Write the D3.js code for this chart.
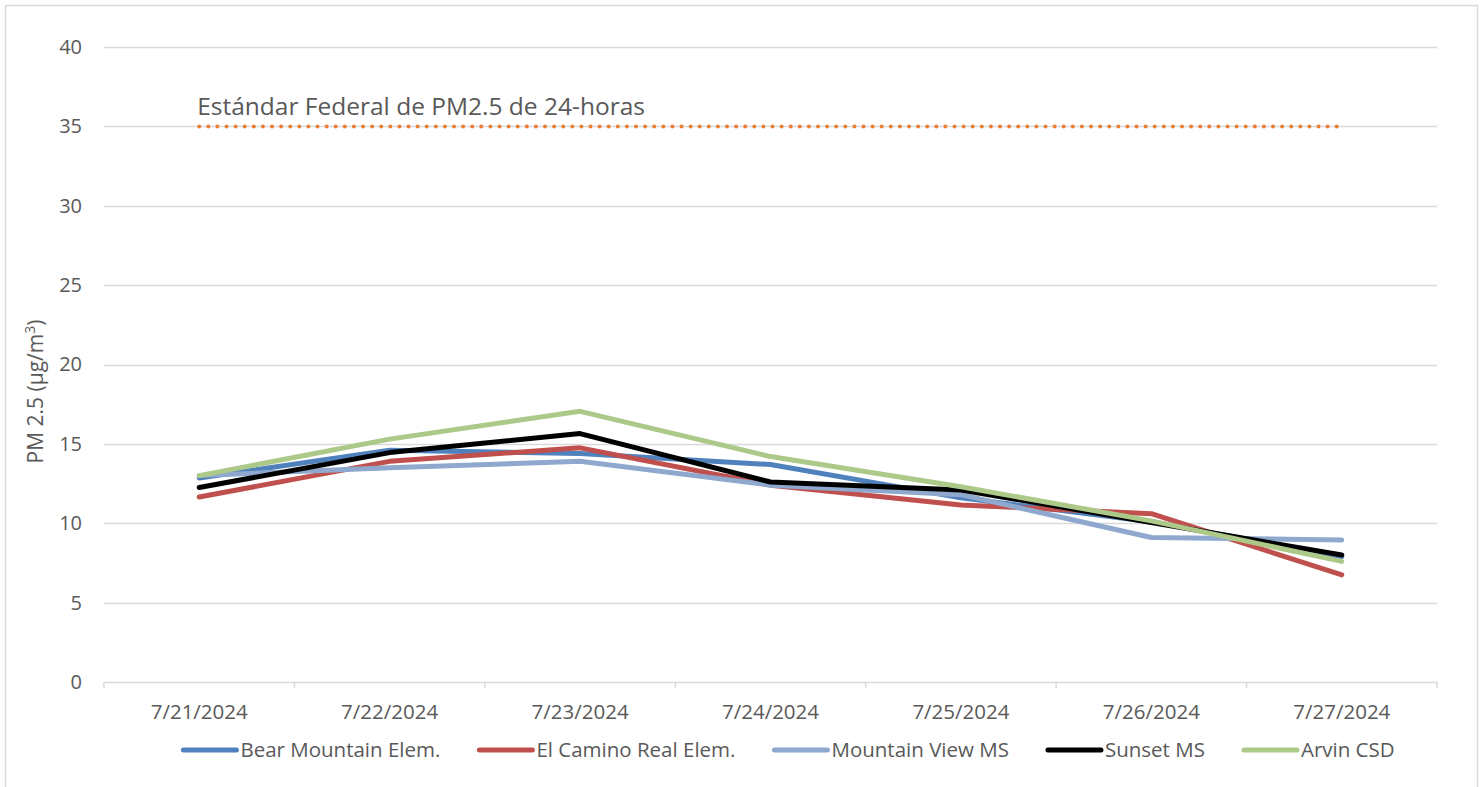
<!DOCTYPE html>
<html>
<head>
<meta charset="utf-8">
<script src="https://cdn.jsdelivr.net/npm/d3@7"></script>
<style>
  body { margin: 0; background: #fff; }
  text { font-family: "Open Sans", "Liberation Sans", sans-serif; fill: #595959; }
</style>
</head>
<body>
<div id="chart-area"></div>
<script>
const dates = ["7/21/2024", "7/22/2024", "7/23/2024", "7/24/2024", "7/25/2024", "7/26/2024", "7/27/2024"]
const seriesNames = ["Bear Mountain Elem.", "El Camino Real Elem.", "Mountain View MS", "Sunset MS", "Arvin CSD"]
const bearMountain = [12.85, 14.6, 14.4, 13.7, 11.6, 10.1, 7.9]
const elCamino = [11.65, 13.9, 14.75, 12.4, 11.15, 10.6, 6.75]
const mountainView = [13.0, 13.5, 13.9, 12.4, 11.8, 9.1, 8.95]
const sunset = [12.25, 14.45, 15.65, 12.6, 12.1, 10.05, 8.0]
const arvin = [13.0, 15.3, 17.05, 14.2, 12.3, 10.15, 7.6]
const federalStandard = 35
const standardLabel = "Estándar Federal de PM2.5 de 24-horas"
const yTicks = [0, 5, 10, 15, 20, 25, 30, 35, 40]

const colors = ["#4F81BD", "#C0504D", "#8EA8CE", "#000000", "#ADC98A"]
const allValues = [bearMountain, elCamino, mountainView, sunset, arvin]

const W = 1484, H = 787
const MARGIN = { LEFT: 104, RIGHT: 47, TOP: 47, BOTTOM: 105 }
const WIDTH = W - MARGIN.LEFT - MARGIN.RIGHT
const HEIGHT = H - MARGIN.TOP - MARGIN.BOTTOM

const svg = d3.select("#chart-area").append("svg")
  .attr("width", W)
  .attr("height", H)

// outer chart border
svg.append("rect")
  .attr("x", 5.5).attr("y", 5.5)
  .attr("width", 1472).attr("height", 800)
  .attr("fill", "none")
  .attr("stroke", "#D9D9D9")
  .attr("stroke-width", 1.5)

const g = svg.append("g")
  .attr("transform", `translate(${MARGIN.LEFT}, ${MARGIN.TOP})`)

const x = d3.scaleBand()
  .domain(dates)
  .range([0, WIDTH])

const y = d3.scaleLinear()
  .domain([0, 40])
  .range([HEIGHT, 0])

// gridlines
g.selectAll("line.grid")
  .data(yTicks.filter(d => d > 0))
  .enter().append("line")
  .attr("class", "grid")
  .attr("x1", 0).attr("x2", WIDTH)
  .attr("y1", d => Math.round(y(d)) + 0.5)
  .attr("y2", d => Math.round(y(d)) + 0.5)
  .attr("stroke", "#D9D9D9")
  .attr("stroke-width", 1.3)

// Y axis labels
const yAxis = g.append("g")
  .call(d3.axisLeft(y).tickValues(yTicks).tickSize(0).tickPadding(22))
yAxis.select(".domain").remove()
yAxis.selectAll("text")
  .attr("font-size", "20px")
  .style("font-family", "'Open Sans', sans-serif")
  .attr("fill", "#595959")

// X axis
const xAxis = g.append("g")
  .attr("transform", `translate(0, ${HEIGHT})`)
  .call(d3.axisBottom(x).tickSize(0).tickPadding(22))
xAxis.select(".domain").attr("stroke", "#D9D9D9").attr("stroke-width", 1.5)
xAxis.selectAll("text")
  .attr("font-size", "20.5px")
  .style("font-family", "'Open Sans', sans-serif")
  .attr("fill", "#595959")

// tick marks at band boundaries
const bounds = dates.map(d => x(d)).concat([WIDTH])
xAxis.selectAll("line.bound")
  .data(bounds)
  .enter().append("line")
  .attr("class", "bound")
  .attr("x1", d => d).attr("x2", d => d)
  .attr("y1", 0).attr("y2", 6)
  .attr("stroke", "#D9D9D9")
  .attr("stroke-width", 1.5)

// Y axis title
const yTitle = svg.append("text")
  .attr("transform", `translate(43, ${MARGIN.TOP + y(18.3)}) rotate(-90)`)
  .attr("text-anchor", "middle")
  .attr("font-size", "21px")
yTitle.append("tspan").text("PM 2.5 (µg/m")
yTitle.append("tspan").attr("dy", -8).attr("font-size", "14px").text("3")
yTitle.append("tspan").attr("dy", 8).text(")")

// federal standard line
const cx = d => x(d) + x.bandwidth() / 2
g.append("line")
  .attr("x1", cx(dates[0])).attr("x2", cx(dates[dates.length - 1]))
  .attr("y1", y(federalStandard)).attr("y2", y(federalStandard))
  .attr("stroke", "#ED7D31")
  .attr("stroke-width", 4)
  .attr("stroke-linecap", "round")
  .attr("stroke-dasharray", "0 9.1")

g.append("text")
  .attr("x", cx(dates[0]) - 2)
  .attr("y", y(federalStandard) - 11)
  .attr("font-size", "24.5px")
  .text(standardLabel)

// series lines
const line = d3.line()
  .x((d, i) => cx(dates[i]))
  .y(d => y(d))

allValues.forEach((vals, i) => {
  g.append("path")
    .datum(vals)
    .attr("fill", "none")
    .attr("stroke", colors[i])
    .attr("stroke-width", 5)
    .attr("stroke-linejoin", "round")
    .attr("stroke-linecap", "round")
    .attr("d", line)
})

// Legend
const legend = svg.append("g")
let lx = 0
seriesNames.forEach((name, i) => {
  const item = legend.append("g").attr("transform", `translate(${lx}, 0)`)
  item.append("line")
    .attr("x1", 2).attr("x2", 55)
    .attr("y1", 0).attr("y2", 0)
    .attr("stroke", colors[i])
    .attr("stroke-width", 5)
    .attr("stroke-linecap", "round")
  const t = item.append("text")
    .attr("x", 59)
    .attr("y", 0)
    .attr("dy", "0.35em")
    .attr("font-size", "20.5px")
    .text(name)
  lx += 59 + t.node().getComputedTextLength() + 37
})
const legendWidth = lx - 37
legend.attr("transform", `translate(${788 - legendWidth / 2}, 750)`)
</script>
</body>
</html>
